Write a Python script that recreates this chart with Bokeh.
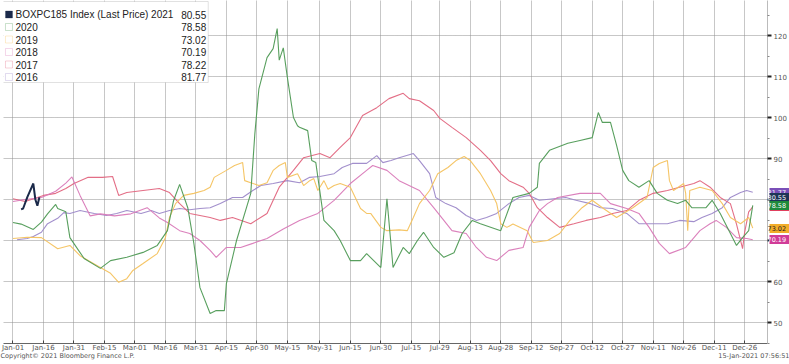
from bokeh.plotting import figure
from bokeh.models import FixedTicker, Label, BoxAnnotation, Range1d, LinearAxis
from bokeh.embed import file_html
from bokeh.resources import INLINE

# ---------------- data (x = day of year, 0 = Jan-01) ----------------
tick_days = [0, 15, 30, 45, 60, 75, 90, 105, 120, 135, 151, 166, 181, 196, 210,
             225, 240, 255, 270, 285, 300, 315, 330, 345, 360]
tick_labels = ["Jan-01", "Jan-16", "Jan-31", "Feb-15", "Mar-01", "Mar-16", "Mar-31",
               "Apr-15", "Apr-30", "May-15", "May-31", "Jun-15", "Jun-30", "Jul-15",
               "Jul-29", "Aug-13", "Aug-28", "Sep-12", "Sep-27", "Oct-12", "Oct-27",
               "Nov-11", "Nov-26", "Dec-11", "Dec-26"]
y_ticks = [50, 60, 70, 80, 90, 100, 110, 120]

days_2021 = [4, 5, 7, 10, 11, 12, 13]
vals_2021 = [77.6, 77.8, 80.5, 83.9, 80.0, 78.5, 80.55]

days_2020 = [0, 4, 10, 14, 17, 21, 22, 26, 28, 35, 43, 48, 56, 64, 71, 76, 79, 82, 86, 89,
             92, 97, 100, 104, 105, 110, 117, 119, 121, 125, 128, 130, 131, 133, 135, 138,
             140, 141, 145, 147, 149, 153, 158, 161, 166, 171, 174, 181, 184, 187, 192,
             195, 199, 202, 207, 212, 217, 221, 226, 230, 240, 246, 254, 258, 259, 264,
             273, 279, 285, 288, 290, 294, 297, 300, 303, 308, 313, 317, 322, 327, 331,
             334, 341, 344, 348, 353, 356, 359, 362, 364]
vals_2020 = [74.4, 74.0, 72.7, 74.5, 76.5, 78.8, 77.8, 77.0, 70.7, 65.6, 63.2, 65.1, 65.9,
             67.1, 68.8, 72.4, 79.7, 83.7, 78.0, 69.3, 58.5, 52.2, 52.9, 52.9, 59.5, 70.0,
             81.5, 96.0, 107.0, 114.6, 116.8, 121.7, 114.0, 117.0, 109.8, 100.0, 98.0,
             97.6, 96.8, 89.5, 89.0, 74.9, 72.4, 70.0, 65.1, 65.1, 66.8, 63.4, 80.2, 63.4,
             68.3, 66.8, 70.0, 72.0, 68.3, 65.9, 67.0, 71.7, 74.9, 74.1, 72.4, 80.5, 81.5,
             83.0, 88.8, 92.0, 93.7, 94.4, 95.1, 101.2, 98.8, 98.8, 93.2, 87.1, 84.6, 83.0,
             84.6, 81.5, 79.8, 79.0, 79.8, 78.0, 78.0, 79.8, 76.6, 71.7, 68.8, 70.7, 72.4,
             78.58]

days_2019 = [0, 7, 14, 22, 28, 33, 37, 43, 48, 52, 56, 59, 64, 71, 75, 77, 80, 84, 89, 94,
             97, 99, 105, 109, 113, 114, 117, 121, 125, 128, 131, 134, 135, 140, 143, 146,
             148, 150, 151, 153, 155, 158, 161, 166, 171, 174, 176, 181, 184, 190, 194,
             197, 200, 205, 209, 214, 218, 222, 225, 230, 235, 238, 240, 243, 246, 253,
             256, 263, 269, 274, 280, 285, 290, 297, 305, 312, 315, 318, 322, 323, 325,
             330, 331, 332, 333, 338, 344, 349, 353, 358, 362, 364]
vals_2019 = [70.5, 70.8, 70.7, 68.0, 68.8, 66.3, 65.1, 63.4, 62.0, 59.8, 60.7, 62.7, 64.4,
             66.8, 70.7, 75.6, 79.0, 81.0, 81.5, 82.2, 83.0, 85.4, 87.1, 88.3, 89.0, 84.6,
             84.1, 83.4, 84.1, 87.1, 88.3, 89.0, 85.4, 86.3, 83.4, 84.6, 85.1, 82.2, 83.0,
             84.6, 82.5, 83.4, 83.9, 83.0, 77.8, 76.6, 76.6, 73.2, 72.4, 72.6, 72.4, 75.6,
             79.0, 82.2, 86.3, 87.8, 89.5, 90.5, 89.5, 86.3, 82.2, 79.0, 74.1, 73.2, 74.0,
             72.4, 69.5, 70.0, 71.7, 74.9, 78.0, 79.8, 78.0, 75.6, 78.0, 80.5, 87.8, 88.8,
             89.5, 84.6, 82.2, 83.9, 81.5, 72.4, 82.2, 83.0, 82.2, 79.0, 75.6, 74.1, 75.6,
             73.02]

days_2018 = [0, 6, 14, 21, 26, 29, 33, 38, 43, 50, 58, 66, 72, 76, 82, 87, 92, 97, 100,
             105, 112, 118, 125, 133, 141, 150, 158, 166, 174, 177, 184, 190, 200, 207,
             212, 216, 223, 228, 233, 238, 244, 251, 254, 259, 263, 268, 279, 289, 294,
             302, 308, 313, 318, 323, 331, 338, 343, 346, 351, 356, 361, 364]
vals_2018 = [79.5, 80.0, 80.5, 82.0, 84.0, 85.5, 81.0, 76.0, 76.5, 76.0, 76.5, 78.0, 75.5,
             74.4, 72.4, 71.7, 70.0, 67.6, 65.9, 68.3, 68.3, 69.3, 70.5, 72.8, 74.9, 76.6,
             79.8, 83.9, 87.1, 88.3, 87.1, 84.6, 82.2, 78.0, 74.9, 72.4, 71.7, 68.3, 65.9,
             65.1, 67.6, 68.3, 73.2, 77.3, 79.0, 80.5, 81.5, 81.5, 79.0, 77.8, 76.6, 73.2,
             69.3, 66.8, 68.3, 72.4, 74.1, 74.9, 73.2, 70.7, 70.5, 70.19]

days_2017 = [0, 6, 15, 21, 26, 30, 37, 44, 49, 52, 56, 64, 72, 77, 82, 87, 92, 97, 102,
             108, 117, 125, 131, 138, 143, 151, 156, 161, 166, 172, 179, 185, 192, 195,
             200, 207, 210, 216, 223, 230, 235, 240, 244, 251, 254, 258, 263, 269, 276,
             282, 289, 295, 302, 308, 315, 322, 328, 335, 338, 343, 348, 353, 356, 359,
             360, 362, 364]
vals_2017 = [80.2, 79.5, 81.0, 81.5, 82.7, 83.9, 85.4, 85.4, 85.6, 81.0, 81.7, 82.2, 82.7,
             81.7, 79.0, 76.6, 76.1, 75.6, 74.9, 75.6, 74.1, 76.6, 83.0, 87.1, 90.2, 91.2,
             90.2, 92.7, 95.1, 100.5, 102.4, 104.6, 105.9, 104.6, 104.1, 101.7, 99.8, 97.6,
             95.1, 92.0, 89.5, 86.3, 84.6, 83.0, 81.5, 78.0, 75.6, 73.2, 74.1, 74.9, 75.6,
             76.6, 77.3, 79.8, 81.5, 82.2, 83.0, 83.9, 84.6, 83.0, 80.5, 79.0, 74.0, 68.0,
             72.0, 77.0, 78.22]

days_2016 = [2, 7, 10, 14, 17, 22, 25, 28, 33, 40, 46, 51, 56, 63, 68, 72, 77, 82, 87, 92,
             97, 102, 108, 113, 118, 122, 128, 135, 141, 146, 151, 158, 162, 167, 174, 179,
             182, 186, 190, 197, 200, 205, 208, 213, 218, 223, 228, 233, 238, 244, 249,
             254, 259, 266, 272, 277, 284, 289, 295, 302, 308, 315, 322, 328, 335, 339,
             344, 349, 353, 358, 361, 364]
vals_2016 = [70.2, 70.5, 71.0, 72.0, 74.1, 75.4, 76.8, 76.6, 77.3, 76.6, 76.1, 76.6, 77.3,
             76.6, 77.3, 76.6, 77.3, 77.8, 77.5, 77.8, 78.0, 79.0, 80.5, 80.5, 82.2, 83.4,
             83.9, 84.6, 84.1, 85.4, 85.6, 86.3, 87.8, 88.8, 88.8, 90.7, 89.0, 89.5, 90.2,
             91.2, 89.5, 86.3, 80.5, 79.0, 78.0, 76.1, 74.9, 75.6, 76.6, 79.0, 80.5, 81.0,
             79.8, 80.2, 80.5, 79.8, 79.0, 78.0, 77.8, 76.6, 74.1, 74.1, 74.1, 74.9, 74.6,
             75.6, 76.6, 78.0, 80.5, 81.7, 82.2, 81.77]

legend_names = ["BOXPC185 Index (Last Price) 2021", "2020", "2019", "2018", "2017", "2016"]
last_values = ["80.55", "78.58", "73.02", "70.19", "78.22", "81.77"]
copyright_text = "Copyright\u00a9 2021 Bloomberg Finance L.P."
stamp_text = "15-Jan-2021 07:56:51"

# ---------------- styling ----------------
line_colors = {"2021": "#1b2a4a", "2020": "#4f9a55", "2019": "#f4c25e",
               "2018": "#d97ab8", "2017": "#e26680", "2016": "#9d89c9"}
tag_colors = {"2021": "#1d3557", "2020": "#1e8a3c", "2019": "#f2ad2a",
              "2018": "#d13c98", "2017": "#e0405e", "2016": "#7a4fb8"}
tag_text = {"2021": "white", "2020": "white", "2019": "#222222",
            "2018": "white", "2017": "white", "2016": "white"}

# pixel helpers for layout items (legend box)
def xd(px):
    return (px - 12.5) / 2.035

def yd(py):
    return 120 - (py - 35) / 4.1

p = figure(width=789, height=364, output_backend="svg", toolbar_location=None,
           x_range=Range1d(xd(3), xd(768)), y_range=Range1d(yd(343), yd(0)),
           y_axis_location="right", min_border_left=3, min_border_right=21,
           min_border_top=0, min_border_bottom=21)
p.outline_line_color = None
p.background_fill_color = "white"

# x axis
p.xaxis.ticker = FixedTicker(ticks=tick_days)
p.xaxis.major_label_overrides = {d: l for d, l in zip(tick_days, tick_labels)}
p.xaxis.major_label_text_font = "DejaVu Sans"
p.xaxis.major_label_text_font_size = "7px"
p.xaxis.major_label_text_color = "#555555"
p.xaxis.major_label_standoff = 0
p.xaxis.axis_line_color = "#666666"
p.xaxis.major_tick_in = 3
p.xaxis.major_tick_out = 0
p.xaxis.major_tick_line_color = "#444444"
p.xaxis.minor_tick_line_color = None

# footnote row: an extra, line-less axis carrying the two footnotes as labels
foot_ticks = [24, 365]
foot_axis = LinearAxis(ticker=FixedTicker(ticks=foot_ticks),
                       major_label_overrides={foot_ticks[0]: copyright_text,
                                              foot_ticks[1]: stamp_text},
                       axis_line_color=None, major_tick_line_color=None,
                       minor_tick_line_color=None, major_tick_in=0, major_tick_out=0,
                       minor_tick_in=0, minor_tick_out=0, major_label_standoff=-3,
                       major_label_text_font="DejaVu Sans",
                       major_label_text_font_size="6.5px",
                       major_label_text_color="#555555")
p.add_layout(foot_axis, "below")

# y axis (right)
minor = [v + 5 for v in y_ticks] + [45]
p.yaxis.ticker = FixedTicker(ticks=y_ticks, minor_ticks=minor)
p.yaxis.major_label_text_font = "DejaVu Sans"
p.yaxis.major_label_text_font_size = "7px"
p.yaxis.major_label_text_color = "#555555"
p.yaxis.major_label_standoff = 2
p.yaxis.axis_line_color = "#bbbbbb"
p.yaxis.major_tick_in = 0
p.yaxis.major_tick_out = 4
p.yaxis.major_tick_line_color = "#222222"
p.yaxis.major_tick_line_width = 2
p.yaxis.minor_tick_in = 0
p.yaxis.minor_tick_out = 2
p.yaxis.minor_tick_line_color = "#888888"

# grid
p.xgrid.ticker = FixedTicker(ticks=tick_days)
p.ygrid.ticker = FixedTicker(ticks=y_ticks)
for g in (p.xgrid, p.ygrid):
    g.grid_line_color = "#8f8f8f"
    g.grid_line_dash = "1 1"
    g.grid_line_width = 1

# lines
series = [("2016", days_2016, vals_2016), ("2017", days_2017, vals_2017),
          ("2018", days_2018, vals_2018), ("2019", days_2019, vals_2019),
          ("2020", days_2020, vals_2020), ("2021", days_2021, vals_2021)]
for name, d, v in series:
    p.line(d, v, line_color=line_colors[name], line_width=2 if name == "2021" else 1.1,
           line_alpha=1.0 if name == "2021" else 0.95)

# legend box
p.add_layout(BoxAnnotation(left=xd(2), right=xd(208), top=yd(1), bottom=yd(82),
                           fill_color="white", fill_alpha=1, line_color="#9a9a9a",
                           line_width=1))
leg_keys = ["2021", "2020", "2019", "2018", "2017", "2016"]
row_y = [14, 26.5, 39, 51.5, 64, 76.5]
for key, name, val, ry in zip(leg_keys, legend_names, last_values, row_y):
    filled = key == "2021"
    p.add_layout(BoxAnnotation(left=xd(5), right=xd(12), top=yd(ry - 3.5), bottom=yd(ry + 3.5),
                               fill_color=line_colors[key] if filled else "white",
                               fill_alpha=1, line_color=line_colors[key], line_width=1))
    p.add_layout(Label(x=xd(15), y=yd(ry), text=name, text_font="Liberation Sans",
                       text_font_size="10px", text_color="#222222",
                       text_baseline="middle", text_align="left"))
    p.add_layout(Label(x=xd(206), y=yd(ry), text=val, text_font="Liberation Sans",
                       text_font_size="10px", text_color="#222222",
                       text_baseline="middle", text_align="right"))

# right-hand last-value tags: zero-width extra axes stacked after the y axis;
# a thick coloured tick reaching back over the axis is the tag body and the
# tick label sits on top of it (later tags overlap earlier ones)
tag_order = [("2016", vals_2016), ("2017", vals_2017), ("2021", vals_2021),
             ("2020", vals_2020), ("2019", vals_2019), ("2018", vals_2018)]
for key, v in tag_order:
    last = v[-1]
    ax = LinearAxis(ticker=FixedTicker(ticks=[last], minor_ticks=[]),
                    major_label_overrides={last: "%.2f" % last},
                    axis_line_color=None,
                    major_tick_in=20, major_tick_out=1,
                    major_tick_line_color=tag_colors[key], major_tick_line_width=9,
                    minor_tick_line_color=None,
                    major_label_standoff=-23,
                    major_label_text_font="DejaVu Sans",
                    major_label_text_font_size="6.5px",
                    major_label_text_color=tag_text[key])
    p.add_layout(ax, "right")

open("out.html", "w").write(file_html(p, INLINE))
